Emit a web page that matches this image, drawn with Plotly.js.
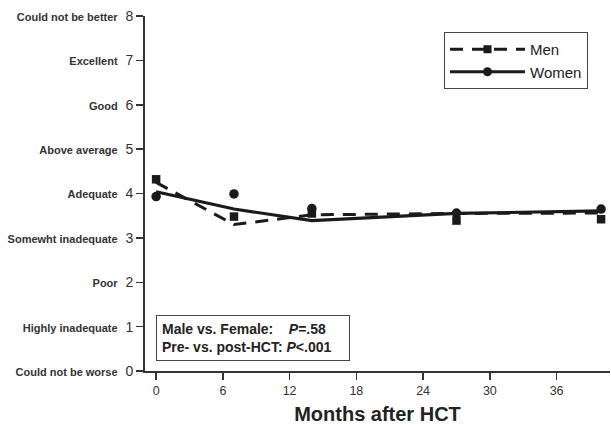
<!DOCTYPE html>
<html>
<head>
<meta charset="utf-8">
<script src="https://cdn.plot.ly/plotly-3.0.1.min.js"></script>
<style>html,body{margin:0;padding:0;background:#fff;}#chart{width:611px;height:425px;}</style>
</head>
<body>
<div id="chart"></div>
<script>
// Observed means
const months = [0, 7, 14, 27, 40];
const menObserved = [4.32, 3.48, 3.55, 3.39, 3.42];
const womenObserved = [3.93, 3.99, 3.66, 3.56, 3.65];
// Model-fitted curves
const menFitted = [4.25, 3.30, 3.52, 3.55, 3.56];
const womenFitted = [4.04, 3.65, 3.39, 3.55, 3.61];

const yTickValues = [0, 1, 2, 3, 4, 5, 6, 7, 8];
const yTickNames = ["Could not be worse", "Highly inadequate", "Poor", "Somewht inadequate",
  "Adequate", "Above average", "Good", "Excellent", "Could not be better"];
const xTickValues = [0, 6, 12, 18, 24, 30, 36];

const font = "Liberation Sans, Arial, sans-serif";
const ink = "#1a1a1a";

const yTickText = yTickValues.map((v, i) =>
  '<b><span style="font-size:11px">' + yTickNames[i] + '</span></b>&nbsp;&nbsp;' + v);

const traces = [
  {x: months, y: menFitted, mode: "lines", showlegend: false,
   line: {color: ink, width: 3, dash: "13px,9px"}},
  {x: months, y: womenFitted, mode: "lines", showlegend: false,
   line: {color: ink, width: 3.2}},
  {x: months, y: menObserved, mode: "markers", showlegend: false,
   marker: {symbol: "square", size: 8.5, color: ink}},
  {x: months, y: womenObserved, mode: "markers", showlegend: false,
   marker: {symbol: "circle", size: 9.5, color: ink}},
  {x: [null], y: [null], mode: "lines+markers", name: "Men",
   line: {color: ink, width: 3, dash: "13px,9px"},
   marker: {symbol: "square", size: 8, color: ink}},
  {x: [null], y: [null], mode: "lines+markers", name: "Women",
   line: {color: ink, width: 3.2},
   marker: {symbol: "circle", size: 9, color: ink}}
];

const layout = {
  width: 611, height: 425,
  margin: {l: 145, r: 1, t: 16, b: 54},
  paper_bgcolor: "#fff", plot_bgcolor: "#fff",
  font: {family: font, color: "#222"},
  showlegend: true,
  legend: {x: 0.643, y: 0.955, xanchor: "left", yanchor: "top",
    bordercolor: "#444", borderwidth: 1, bgcolor: "#fff", itemwidth: 75,
    font: {size: 15, color: "#222", family: font}, tracegroupgap: 0},
  xaxis: {
    range: [-1, 40.8], tickvals: xTickValues, ticks: "outside", ticklen: 7,
    tickcolor: "#333", tickwidth: 1.5, showline: true, linecolor: "#333", linewidth: 2,
    showgrid: false, zeroline: false,
    tickfont: {size: 12.5, color: "#333", family: font},
    title: {text: "<b>Months after HCT</b>", font: {size: 20, color: "#222", family: font}, standoff: 20}
  },
  yaxis: {
    range: [0, 8], tickvals: yTickValues, ticktext: yTickText, ticks: "outside", ticklen: 7,
    tickcolor: "#333", tickwidth: 1.5, showline: true, linecolor: "#333", linewidth: 2,
    showgrid: false, zeroline: false,
    tickfont: {size: 14, color: "#333", family: font}
  },
  annotations: [{
    xref: "x", yref: "y", x: 0, y: 1.26, xanchor: "left", yanchor: "top",
    align: "left", showarrow: false, width: 182,
    text: "<b>Male vs. Female:&nbsp;&nbsp;&nbsp;&nbsp;<i>P</i>=.58</b><br><b>Pre- vs. post-HCT: <i>P</i>&lt;.001</b>",
    font: {size: 14, color: "#222", family: font},
    bordercolor: "#444", borderwidth: 1, borderpad: 5, bgcolor: "#fff"
  }]
};

Plotly.newPlot("chart", traces, layout, {displayModeBar: false, staticPlot: true});
</script>
</body>
</html>
